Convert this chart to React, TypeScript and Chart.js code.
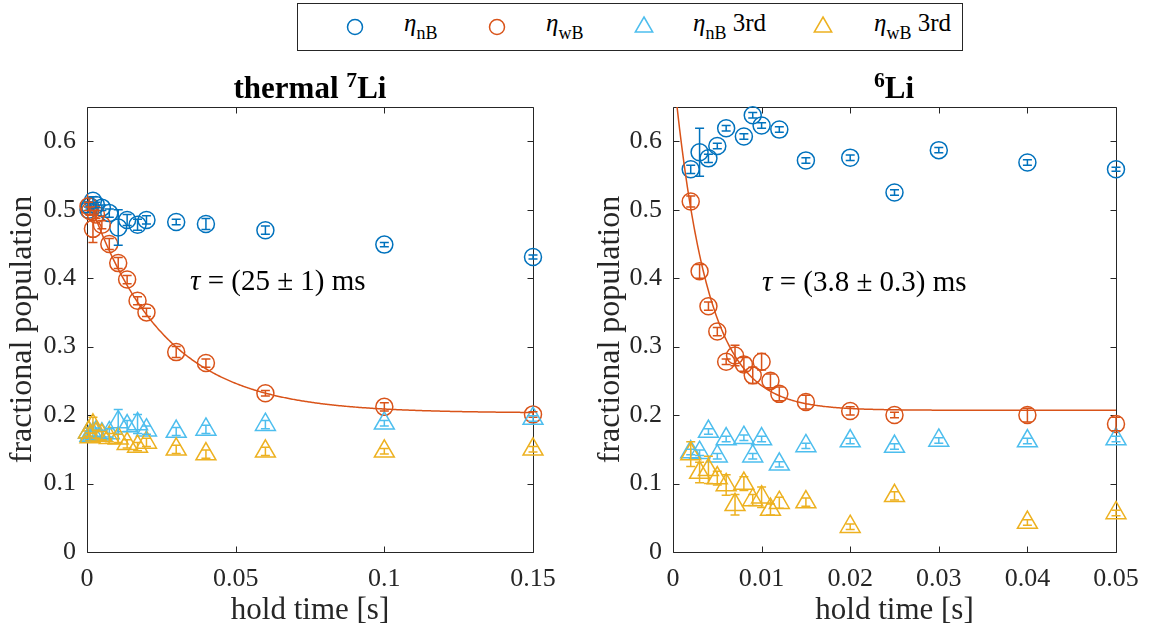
import React, { useEffect, useRef } from "react";
import { Chart, registerables } from "chart.js";
Chart.register(...registerables);

const FONT = "'Liberation Serif', 'Times New Roman', Times, serif";
const AXIS = "#262626";
const C_NB = "#0072BD";
const C_WB = "#D95319";
const C_NB3 = "#4DBEEE";
const C_WB3 = "#EDB120";

// ---------- thermal 7Li (left panel) ----------
const tLeft = [0.0005, 0.001, 0.002, 0.003, 0.005, 0.0075, 0.0105, 0.0135, 0.017, 0.02, 0.03, 0.04, 0.06, 0.1, 0.15];
const nBLeft = [0.5, 0.505, 0.513, 0.507, 0.503, 0.495, 0.474, 0.485, 0.478, 0.485, 0.482, 0.479, 0.47, 0.449, 0.431];
const nBLeftErr = [0.004, 0.004, 0.006, 0.004, 0.004, 0.006, 0.026, 0.008, 0.008, 0.006, 0.004, 0.008, 0.006, 0.003, 0.003];
const wBLeft = [0.505, 0.498, 0.472, 0.493, 0.478, 0.45, 0.422, 0.398, 0.367, 0.35, 0.292, 0.276, 0.232, 0.212, 0.201];
const wBLeftErr = [0.006, 0.006, 0.02, 0.006, 0.006, 0.008, 0.008, 0.006, 0.006, 0.006, 0.008, 0.006, 0.004, 0.006, 0.004];
const nB3Left = [0.175, 0.17, 0.172, 0.175, 0.172, 0.174, 0.19, 0.184, 0.187, 0.178, 0.176, 0.179, 0.186, 0.188, 0.195];
const nB3LeftErr = [0.006, 0.006, 0.006, 0.006, 0.006, 0.006, 0.018, 0.008, 0.014, 0.006, 0.006, 0.006, 0.006, 0.004, 0.004];
const wB3Left = [0.175, 0.168, 0.185, 0.172, 0.17, 0.167, 0.166, 0.158, 0.154, 0.16, 0.15, 0.143, 0.147, 0.147, 0.15];
const wB3LeftErr = [0.006, 0.006, 0.012, 0.006, 0.006, 0.006, 0.006, 0.006, 0.006, 0.006, 0.006, 0.006, 0.006, 0.004, 0.004];
const fitLeftOffset = 0.203;
const fitLeftAmp = 0.32;
const fitLeftTau = 0.025;
const xTicksLeft = [0, 0.05, 0.1, 0.15];
const xTickLabelsLeft = ["0", "0.05", "0.1", "0.15"];

// ---------- 6Li (right panel) ----------
const tRight = [0.002, 0.003, 0.004, 0.005, 0.006, 0.007, 0.008, 0.009, 0.01, 0.011, 0.012, 0.015, 0.02, 0.025, 0.03, 0.04, 0.05];
const nBRight = [0.559, 0.584, 0.575, 0.593, 0.619, null, 0.607, 0.638, 0.623, null, 0.617, 0.572, 0.576, 0.525, 0.587, 0.569, 0.559];
const nBRightErr = [0.006, 0.035, 0.006, 0.004, 0.004, null, 0.004, 0.004, 0.004, null, 0.004, 0.004, 0.004, 0.004, 0.004, 0.004, 0.003];
const wBRight = [0.512, 0.41, 0.359, 0.322, 0.278, 0.287, 0.274, 0.258, 0.278, 0.25, 0.231, 0.219, 0.206, 0.2, null, 0.2, 0.187];
const wBRightErr = [0.008, 0.01, 0.006, 0.006, 0.004, 0.015, 0.01, 0.012, 0.012, 0.01, 0.01, 0.01, 0.006, 0.004, null, 0.01, 0.01];
const nB3Right = [0.146, 0.145, 0.176, 0.14, 0.165, null, 0.167, 0.14, 0.165, null, 0.128, 0.155, 0.162, 0.154, 0.163, 0.162, 0.165];
const nB3RightErr = [0.004, 0.004, 0.004, 0.004, 0.004, null, 0.004, 0.004, 0.004, null, 0.004, 0.004, 0.004, 0.004, 0.004, 0.004, 0.004];
const wB3Right = [0.143, 0.116, 0.12, 0.108, 0.098, 0.069, 0.1, 0.076, 0.08, 0.062, 0.072, 0.073, 0.037, 0.082, null, 0.043, 0.057];
const wB3RightErr = [0.018, 0.015, 0.02, 0.01, 0.015, 0.015, 0.01, 0.008, 0.015, 0.008, 0.008, 0.006, 0.004, 0.006, null, 0.004, 0.004];
const fitRightOffset = 0.207;
const fitRightAmp = 0.5;
const fitRightTau = 0.0038;
const xTicksRight = [0, 0.01, 0.02, 0.03, 0.04, 0.05];
const xTickLabelsRight = ["0", "0.01", "0.02", "0.03", "0.04", "0.05"];

// shared y axis
const yTicks = [0, 0.1, 0.2, 0.3, 0.4, 0.5, 0.6];
const yTickLabels = ["0", "0.1", "0.2", "0.3", "0.4", "0.5", "0.6"];

// legend
const legendColors = [C_NB, C_WB, C_NB3, C_WB3];
const legendShapes = ["circle", "circle", "triangle", "triangle"];
const legendSubs = ["nB", "wB", "nB", "wB"];
const legendSuffix = ["", "", " 3rd", " 3rd"];

type P = { x: number; y: number; e: number };
function pts(t: number[], v: (number | null)[], e: (number | null)[]): P[] {
  const out: P[] = [];
  t.forEach((x, i) => {
    if (v[i] != null) out.push({ x, y: v[i] as number, e: (e[i] as number) || 0 });
  });
  return out;
}

function fitCurve(offset: number, amp: number, tau: number, xmax: number) {
  const out: { x: number; y: number }[] = [];
  const n = 400;
  for (let i = 0; i <= n; i++) {
    const x = (xmax * i) / n;
    out.push({ x, y: offset + amp * Math.exp(-x / tau) });
  }
  return out;
}

const boxPlugin = {
  id: "boxPlugin",
  beforeDatasetsDraw(chart: any) {
    const { ctx, chartArea: a, scales } = chart;
    ctx.save();
    ctx.strokeStyle = AXIS;
    ctx.lineWidth = 1;
    const L = 6;
    ctx.beginPath();
    const l = Math.round(a.left) + 0.5, r = Math.round(a.right) + 0.5;
    const t = Math.round(a.top) + 0.5, b = Math.round(a.bottom) + 0.5;
    ctx.rect(l, t, r - l, b - t);
    scales.x.ticks.forEach((tk: any) => {
      const px = Math.round(scales.x.getPixelForValue(tk.value)) + 0.5;
      ctx.moveTo(px, b); ctx.lineTo(px, b - L);
      ctx.moveTo(px, t); ctx.lineTo(px, t + L);
    });
    scales.y.ticks.forEach((tk: any) => {
      const py = Math.round(scales.y.getPixelForValue(tk.value)) + 0.5;
      ctx.moveTo(l, py); ctx.lineTo(l + L, py);
      ctx.moveTo(r, py); ctx.lineTo(r - L, py);
    });
    ctx.stroke();
    ctx.restore();
  },
};

const errPlugin = {
  id: "errPlugin",
  afterDatasetsDraw(chart: any) {
    const { ctx, scales } = chart;
    ctx.save();
    chart.data.datasets.forEach((ds: any, i: number) => {
      if (!ds.hasErr) return;
      const meta = chart.getDatasetMeta(i);
      ctx.strokeStyle = ds.borderColor;
      ctx.lineWidth = 1.5;
      meta.data.forEach((el: any, j: number) => {
        const raw = ds.data[j];
        if (!raw || !raw.e) return;
        const y1 = scales.y.getPixelForValue(raw.y + raw.e);
        const y2 = scales.y.getPixelForValue(raw.y - raw.e);
        const x = el.x;
        const cap = 4.5;
        ctx.beginPath();
        ctx.moveTo(x, y1); ctx.lineTo(x, y2);
        ctx.moveTo(x - cap, y1); ctx.lineTo(x + cap, y1);
        ctx.moveTo(x - cap, y2); ctx.lineTo(x + cap, y2);
        ctx.stroke();
      });
    });
    ctx.restore();
  },
};

function seriesDs(data: P[], color: string, shape: string, order: number) {
  return {
    data,
    hasErr: true,
    pointStyle: shape,
    pointRadius: shape === "circle" ? 8.5 : 11.5,
    pointHoverRadius: shape === "circle" ? 8.5 : 11.5,
    borderColor: color,
    backgroundColor: "rgba(0,0,0,0)",
    pointBorderWidth: 1.5,
    borderWidth: 1.5,
    showLine: false,
    order,
    clip: false,
  };
}

function makeConfig(p: any) {
  return {
    type: "scatter",
    data: {
      datasets: [
        {
          type: "line",
          data: p.fit,
          borderColor: C_WB,
          borderWidth: 1.5,
          pointRadius: 0,
          fill: false,
          tension: 0,
          order: 0,
        },
        seriesDs(p.nB, C_NB, "circle", 4),
        seriesDs(p.wB, C_WB, "circle", 3),
        seriesDs(p.nB3, C_NB3, "triangle", 2),
        seriesDs(p.wB3, C_WB3, "triangle", 1),
      ],
    },
    options: {
      animation: false,
      responsive: false,
      events: [],
      layout: { padding: { top: 47, right: p.padRight, left: 0, bottom: 0 } },
      plugins: { legend: { display: false }, tooltip: { enabled: false }, title: { display: false } },
      scales: {
        x: {
          type: "linear",
          min: 0,
          max: p.xmax,
          afterBuildTicks: (s: any) => { s.ticks = p.xTicks.map((v: number) => ({ value: v })); },
          afterFit: (s: any) => { s.height = 83; },
          ticks: {
            font: { family: FONT, size: 26 },
            color: AXIS,
            padding: 12,
            maxRotation: 0,
            autoSkip: false,
            callback: (_v: any, i: number) => p.xLabels[i],
          },
          grid: { display: false, drawTicks: false },
          border: { display: false },
          title: { display: true, text: "hold time [s]", font: { family: FONT, size: 31 }, color: AXIS, padding: { top: 0, bottom: 6 } },
        },
        y: {
          type: "linear",
          min: 0,
          max: 0.65,
          afterBuildTicks: (s: any) => { s.ticks = yTicks.map((v) => ({ value: v })); },
          afterFit: (s: any) => { s.width = p.yWidth; },
          ticks: {
            font: { family: FONT, size: 26 },
            color: AXIS,
            padding: 11,
            autoSkip: false,
            callback: (_v: any, i: number) => yTickLabels[i],
          },
          grid: { display: false, drawTicks: false },
          border: { display: false },
          title: { display: true, text: "fractional population", font: { family: FONT, size: 32 }, color: AXIS, padding: { top: p.yTitlePad, bottom: 0 } },
        },
      },
    },
    plugins: [boxPlugin, errPlugin],
  };
}

function Panel(props: { left: number; width: number; cfg: any }) {
  const ref = useRef<HTMLCanvasElement>(null);
  useEffect(() => {
    if (!ref.current) return;
    const chart = new Chart(ref.current, makeConfig(props.cfg) as any);
    return () => chart.destroy();
  }, []);
  return (
    <canvas
      ref={ref}
      width={props.width}
      height={575}
      style={{ position: "absolute", left: props.left, top: 60, width: props.width, height: 575 }}
    />
  );
}

function Marker(props: { shape: string; color: string }) {
  return (
    <svg width={26} height={26} viewBox="-13 -13 26 26" style={{ display: "block" }}>
      {props.shape === "circle" ? (
        <circle cx={0} cy={0} r={7.5} fill="none" stroke={props.color} strokeWidth={1.5} />
      ) : (
        <polygon points="0,-10 8.7,5 -8.7,5" fill="none" stroke={props.color} strokeWidth={1.5} />
      )}
    </svg>
  );
}

export default function App() {
  const leftCfg = {
    fit: fitCurve(fitLeftOffset, fitLeftAmp, fitLeftTau, 0.15),
    nB: pts(tLeft, nBLeft, nBLeftErr),
    wB: pts(tLeft, wBLeft, wBLeftErr),
    nB3: pts(tLeft, nB3Left, nB3LeftErr),
    wB3: pts(tLeft, wB3Left, wB3LeftErr),
    xmax: 0.15,
    xTicks: xTicksLeft,
    xLabels: xTickLabelsLeft,
    padRight: 42,
    yWidth: 87,
    yTitlePad: 3,
  };
  const rightCfg = {
    fit: fitCurve(fitRightOffset, fitRightAmp, fitRightTau, 0.05),
    nB: pts(tRight, nBRight, nBRightErr),
    wB: pts(tRight, wBRight, wBRightErr),
    nB3: pts(tRight, nB3Right, nB3RightErr),
    wB3: pts(tRight, wB3Right, wB3RightErr),
    xmax: 0.05,
    xTicks: xTicksRight,
    xLabels: xTickLabelsRight,
    padRight: 36,
    yWidth: 93,
    yTitlePad: 11,
  };
  const markerX = [57, 199, 346, 525];
  const textX = [106, 248, 395, 576];
  return (
    <div style={{ position: "absolute", left: 0, top: 0, width: 1152, height: 635, background: "#fff", fontFamily: FONT, color: AXIS, overflow: "hidden" }}>
      <Panel left={0} width={575} cfg={leftCfg} />
      <Panel left={580} width={572} cfg={rightCfg} />
      {/* titles */}
      <div style={{ position: "absolute", left: 110, width: 400, top: 72, lineHeight: "31px", fontSize: 31, fontWeight: "bold", textAlign: "center", color: "#000" }}>
        thermal <sup style={{ fontSize: "0.7em", lineHeight: 0, verticalAlign: "0.5em" }}>7</sup>Li
      </div>
      <div style={{ position: "absolute", left: 694, width: 400, top: 72, lineHeight: "31px", fontSize: 31, fontWeight: "bold", textAlign: "center", color: "#000" }}>
        <sup style={{ fontSize: "0.7em", lineHeight: 0, verticalAlign: "0.5em" }}>6</sup>Li
      </div>
      {/* fit annotations */}
      <div style={{ position: "absolute", left: 190, top: 266, fontSize: 29, lineHeight: "29px", whiteSpace: "nowrap", color: "#000" }}>
        <i>τ</i> = (25 ± 1) ms
      </div>
      <div style={{ position: "absolute", left: 762, top: 267, fontSize: 29, lineHeight: "29px", whiteSpace: "nowrap", color: "#000" }}>
        <i>τ</i> = (3.8 ± 0.3) ms
      </div>
      {/* legend */}
      <div style={{ position: "absolute", left: 297, top: 3, width: 664, height: 46, border: `1px solid ${AXIS}`, background: "#fff" }}>
        {legendColors.map((c, i) => (
          <React.Fragment key={i}>
            <div style={{ position: "absolute", left: markerX[i] - 13, top: 10 }}>
              <Marker shape={legendShapes[i]} color={c} />
            </div>
            <div style={{ position: "absolute", left: textX[i], top: 5, fontSize: 25, lineHeight: "28px", whiteSpace: "nowrap", color: "#000" }}>
              <i>η</i>
              <sub style={{ fontSize: 18, lineHeight: 0, verticalAlign: "-0.45em" }}>{legendSubs[i]}</sub>
              {legendSuffix[i]}
            </div>
          </React.Fragment>
        ))}
      </div>
    </div>
  );
}
